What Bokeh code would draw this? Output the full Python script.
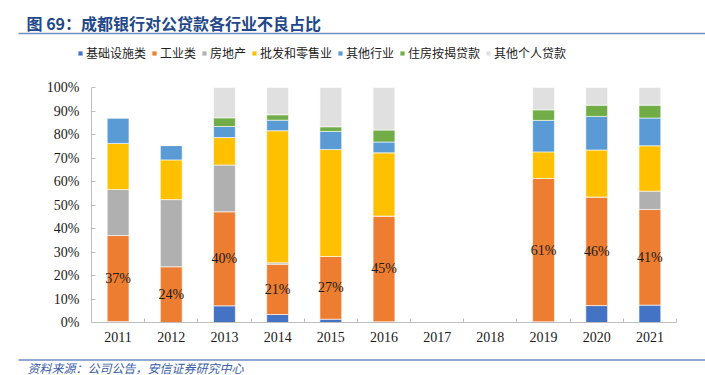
from bokeh.plotting import figure
from bokeh.models import (Range1d, FixedTicker, PrintfTickFormatter, Legend, LegendItem,
                          Label, BoxAnnotation, ColumnDataSource)
from bokeh.core.properties import value
from bokeh.embed import file_html
from bokeh.resources import INLINE

years = ["2011", "2012", "2013", "2014", "2015", "2016", "2017", "2018", "2019", "2020", "2021"]
series_names = ["基础设施类", "工业类", "房地产", "批发和零售业", "其他行业", "住房按揭贷款", "其他个人贷款"]
infra     = [0.4, 0.0, 7.1, 3.4, 1.4, 0.3, 0, 0, 0.3, 7.2, 7.4]
industry  = [36.6, 23.7, 40.0, 21.4, 26.7, 45.0, 0, 0, 61.0, 46.2, 40.7]
realestate = [19.6, 28.6, 19.9, 0.6, 0.0, 0.0, 0, 0, 0.0, 0.0, 7.8]
wholesale = [19.6, 16.9, 11.7, 56.2, 45.5, 26.9, 0, 0, 11.3, 20.0, 19.3]
other_ind = [10.9, 6.1, 4.7, 4.5, 7.7, 4.6, 0, 0, 13.4, 14.3, 11.8]
mortgage  = [0.0, 0.0, 3.7, 2.3, 2.0, 5.1, 0, 0, 4.5, 4.8, 5.5]
personal  = [0.0, 0.0, 12.9, 11.6, 16.7, 18.1, 0, 0, 9.5, 7.5, 7.5]
industry_labels = ["37%", "24%", "40%", "21%", "27%", "45%", "", "", "61%", "46%", "41%"]
y_ticks = [0, 10, 20, 30, 40, 50, 60, 70, 80, 90, 100]
title_text = "图 69：成都银行对公贷款各行业不良占比"
source_text = "资料来源：公司公告，安信证券研究中心"

colors = ["#4472C4", "#ED7D31", "#B0B0B0", "#FFC000", "#5B9BD5", "#70AD47", "#E0E0E0"]
keys = ["infra", "industry", "realestate", "wholesale", "other_ind", "mortgage", "personal"]

# layout: canvas pixels -> data coordinates (frame covers the whole canvas)
W, H = 705, 375
X0, XS = 91.0, 53.18      # pixel of category boundary -0.5, pixels per category
Y0, YS = 322.0, 2.35      # pixel of 0%, pixels per percent


def xd(px):
    return -0.5 + (px - X0) / XS


def yd(py):
    return (Y0 - py) / YS


xs = list(range(len(years)))
src = ColumnDataSource(dict(x=xs, infra=infra, industry=industry, realestate=realestate,
                            wholesale=wholesale, other_ind=other_ind, mortgage=mortgage,
                            personal=personal))

p = figure(width=W, height=H, x_range=Range1d(xd(0), xd(W)), y_range=Range1d(yd(H), yd(0)),
           output_backend="svg", toolbar_location=None, title=None,
           min_border_left=0, min_border_right=0, min_border_top=0, min_border_bottom=0)
p.outline_line_color = None
p.xgrid.visible = False
p.ygrid.visible = False

renderers = p.vbar_stack(keys, x="x", width=0.41, source=src, color=colors,
                         line_color="white", line_width=0.6)

# data labels for industry share
lx, ly, lt = [], [], []
for i, t in enumerate(industry_labels):
    if t:
        lx.append(i)
        ly.append(infra[i] + industry[i] / 2)
        lt.append(t)
p.text(x=lx, y=ly, text=lt, text_font=value("Liberation Serif"), text_font_size="14px",
       text_align="center", text_baseline="middle", text_color="#1a1a1a")

axis_col = "#BFBFBF"
# y axis
ya = p.yaxis[0]
ya.fixed_location = -0.5
ya.bounds = (0, 100)
ya.ticker = FixedTicker(ticks=y_ticks)
ya.formatter = PrintfTickFormatter(format="%d%%")
ya.major_tick_in = 4
ya.major_tick_out = 0
ya.minor_tick_line_color = None
ya.axis_line_color = axis_col
ya.major_tick_line_color = axis_col
ya.major_label_standoff = 12
ya.major_label_text_font = "Liberation Serif"
ya.major_label_text_font_size = "14px"
ya.major_label_text_color = "#1a1a1a"

# x axis
xa = p.xaxis[0]
xa.fixed_location = 0
xa.bounds = (-0.5, len(years) - 0.5)
xa.ticker = FixedTicker(ticks=xs, minor_ticks=[i + 0.5 for i in xs])
xa.major_label_overrides = {i: y for i, y in enumerate(years)}
xa.major_tick_in = 0
xa.major_tick_out = 0
xa.minor_tick_in = 4
xa.minor_tick_out = 0
xa.minor_tick_line_color = axis_col
xa.axis_line_color = axis_col
xa.major_label_standoff = 9
xa.major_label_text_font = "Liberation Serif"
xa.major_label_text_font_size = "14px"
xa.major_label_text_color = "#1a1a1a"

# legend (location = bottom-left corner, y measured from canvas bottom)
legend = Legend(items=[LegendItem(label=n, renderers=[r]) for n, r in zip(series_names, renderers)],
                orientation="horizontal", location=(77, H - 61),
                glyph_width=6, glyph_height=6, label_standoff=3, spacing=5,
                label_height=14, padding=0, margin=0, border_line_color=None,
                background_fill_alpha=0, label_text_font="Noto Sans CJK SC",
                label_text_font_size="12px", label_text_color="#222222")
p.add_layout(legend, "center")

# title, source and rules
p.add_layout(Label(x=xd(26), y=yd(22), text=title_text,
                   text_font="Noto Sans CJK SC", text_font_size="16px", text_font_style="bold",
                   text_color="#22478A", text_baseline="middle"))
rule_col = "#6C8EBF"
p.add_layout(BoxAnnotation(left=xd(18), right=xd(W), top=yd(32.3), bottom=yd(33.8),
                           fill_color=rule_col, fill_alpha=1, line_color=None))
p.add_layout(BoxAnnotation(left=xd(18), right=xd(W), top=yd(358.8), bottom=yd(360.3),
                           fill_color=rule_col, fill_alpha=1, line_color=None))
p.add_layout(Label(x=xd(27), y=yd(366.5), text=source_text,
                   text_font="Noto Sans CJK SC", text_font_size="12px", text_font_style="italic",
                   text_color="#3A5DA8", text_baseline="middle"))

open("out.html", "w").write(file_html(p, INLINE))
